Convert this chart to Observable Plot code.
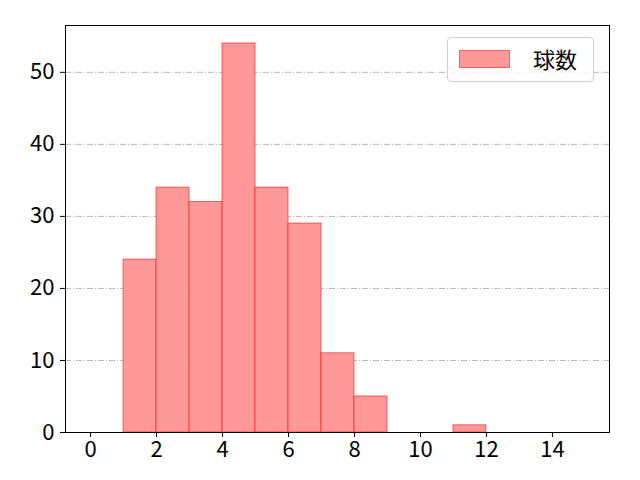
<!DOCTYPE html>
<html><head><meta charset="utf-8">
<script src="https://cdn.jsdelivr.net/npm/d3@7"></script>
<script src="https://cdn.jsdelivr.net/npm/@observablehq/plot@0.6"></script>
<style>
body{margin:0;background:#fff;}
#wrap{position:relative;width:640px;height:480px;}
#legend{position:absolute;left:447px;top:37px;width:147px;height:45px;border:1px solid #d0d0d0;border-radius:4px;background:rgba(255,255,255,0.8);box-sizing:border-box;font-family:"Noto Sans CJK JP",sans-serif;font-size:22px;}
#legend .sw{position:absolute;left:11px;top:12px;width:51px;height:18px;background:#ff9999;border:1px solid rgba(255,0,0,0.4);box-sizing:border-box;}
#legend .lb{position:absolute;left:85px;top:6px;line-height:28px;}
svg text{font-size:22px;}
</style></head>
<body><div id="wrap"><div id="legend"><div class="sw"></div><div class="lb">球数</div></div></div>
<script>
const binStart = [1, 2, 3, 4, 5, 6, 7, 8, 11];
const binEnd   = [2, 3, 4, 5, 6, 7, 8, 9, 12];
const counts   = [24, 34, 32, 54, 34, 29, 11, 5, 1];
const xTicks = [0, 2, 4, 6, 8, 10, 12, 14];
const yTicks = [0, 10, 20, 30, 40, 50];
const gridY = [10, 20, 30, 40, 50];

const data = binStart.map((s, i) => ({x1: s, x2: binEnd[i], y: counts[i]}));

const chart = Plot.plot({
  width: 640, height: 480,
  marginLeft: 65, marginRight: 31, marginTop: 25, marginBottom: 48,
  style: {fontFamily: "'Noto Sans CJK JP', sans-serif", fontSize: "22px", color: "#000", background: "#fff"},
  x: {domain: [-0.76, 15.73], label: null},
  y: {domain: [0, 56.5], label: null},
  marks: [
    Plot.ruleY(gridY, {stroke: "#b0b0b0", strokeWidth: 0.9, strokeDasharray: "6,2,1,2"}),
    Plot.rectY(data, {x1: "x1", x2: "x2", y: "y", fill: "#ff9999", stroke: "red", strokeOpacity: 0.55, strokeWidth: 1, inset: 0}),
    Plot.frame({stroke: "#000", strokeWidth: 1}),
    Plot.axisX({ticks: xTicks, tickSize: 5, tickPadding: 4, fontSize: 22, label: null}),
    Plot.axisY({ticks: yTicks, tickSize: 5, tickPadding: 6, fontSize: 22, label: null})
  ]
});
document.getElementById("wrap").prepend(chart);
chart.style.position = "absolute";
chart.style.left = "0"; chart.style.top = "0";
</script></body></html>
